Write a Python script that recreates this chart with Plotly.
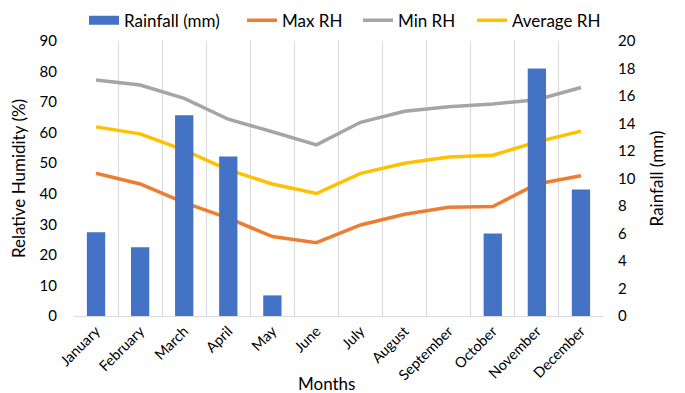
import plotly.graph_objects as go

months = ["January", "February", "March", "April", "May", "June", "July",
          "August", "September", "October", "November", "December"]
rainfall = [6.1, 5.0, 14.6, 11.6, 1.5, 0, 0, 0, 0, 6.0, 18.0, 9.2]
max_rh = [46.7, 43.2, 37.1, 32.0, 26.0, 24.0, 29.8, 33.3, 35.6, 35.8, 43.2, 45.9]
min_rh = [77.2, 75.6, 71.2, 64.4, 60.3, 56.0, 63.4, 67.0, 68.5, 69.4, 70.8, 74.8]
avg_rh = [61.9, 59.6, 54.3, 47.8, 43.2, 40.1, 46.7, 50.0, 52.0, 52.6, 57.0, 60.5]

font = "Lato, 'Open Sans', sans-serif"
BLUE, ORANGE, GRAY, YELLOW = "#4472C4", "#ED7D31", "#A5A5A5", "#FFC000"
W, H = 677, 385

fig = go.Figure()
fig.add_trace(go.Bar(x=months, y=rainfall, name="Rainfall (mm)", yaxis="y2",
                     marker=dict(color=BLUE, line=dict(width=0)), showlegend=False,
                     legendgroup="rain"))
# legend entry drawn as a wide rectangle like the reference
fig.add_trace(go.Scatter(x=[None], y=[None], name="Rainfall (mm)", mode="lines",
                         line=dict(color=BLUE, width=9), legendgroup="rain",
                         hoverinfo="skip", legend="legend"))
fig.add_trace(go.Scatter(x=months, y=max_rh, name="Max RH", mode="lines",
                         line=dict(color=ORANGE, width=3.5), legend="legend2"))
fig.add_trace(go.Scatter(x=months, y=min_rh, name="Min RH", mode="lines",
                         line=dict(color=GRAY, width=3.5), legend="legend3"))
fig.add_trace(go.Scatter(x=months, y=avg_rh, name="Average RH", mode="lines",
                         line=dict(color=YELLOW, width=3.5), legend="legend4"))


def leg(px):
    return dict(orientation="h", x=px / W, xanchor="left", xref="container",
                y=0.967, yanchor="middle", yref="container",
                font=dict(size=17), bgcolor="rgba(0,0,0,0)")


fig.update_layout(
    width=W, height=H,
    margin=dict(l=66, r=82, t=33, b=77, autoexpand=False),
    paper_bgcolor="white", plot_bgcolor="white",
    font=dict(family=font, size=15, color="#000000"),
    bargap=0.585,
    showlegend=True,
    legend=leg(76), legend2=leg(234), legend3=leg(350), legend4=leg(464),
    xaxis=dict(type="category", tickson="boundaries", showgrid=True,
               gridcolor="#D9D9D9", gridwidth=1, showline=True, linecolor="#D9D9D9",
               tickangle=-45, ticks="", tickfont=dict(size=14.5), automargin=False,
               zeroline=False),
    yaxis=dict(range=[0, 90], dtick=10, showgrid=False, zeroline=False,
               showline=False, ticks="", tickfont=dict(size=15), automargin=False,
               ticklabelstandoff=16,
               title=dict(text="Relative Humidity (%)", font=dict(size=17), standoff=16)),
    yaxis2=dict(range=[0, 20], dtick=2, overlaying="y", side="right",
                showgrid=False, zeroline=False, showline=False, ticks="",
                tickfont=dict(size=15), automargin=False, ticklabelstandoff=14,
                title=dict(text="Rainfall (mm)", font=dict(size=17), standoff=16)),
    annotations=[dict(text="Months", xref="paper", yref="paper", x=0.478, y=-0.245,
                      xanchor="center", yanchor="middle", showarrow=False,
                      font=dict(size=17))],
)

fig.write_html("out.html")
